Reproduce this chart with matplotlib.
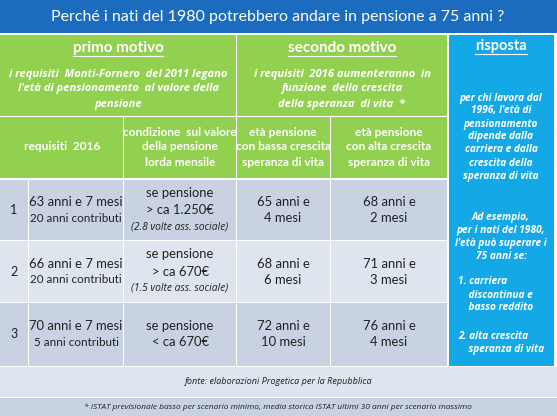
import matplotlib.pyplot as plt
from matplotlib.patches import Rectangle

plt.rcParams['font.family'] = ['Lato', 'DejaVu Sans']

title = "Perché i nati del 1980 potrebbero andare in pensione a 75 anni ?"
row_ids = ["1", "2", "3"]
requisiti = [("63 anni e 7 mesi", "20 anni contributi"),
             ("66 anni e 7 mesi", "20 anni contributi"),
             ("70 anni e 7 mesi", "5 anni contributi")]
condizione = [("se pensione", "> ca 1.250€", "(2.8 volte ass. sociale)"),
              ("se pensione", "> ca 670€", "(1.5 volte ass. sociale)"),
              ("se pensione", "< ca 670€", None)]
eta_bassa = ["65 anni e\n4 mesi", "68 anni e\n6 mesi", "72 anni e\n10 mesi"]
eta_alta = ["68 anni e\n2 mesi", "71 anni e\n3 mesi", "76 anni e\n4 mesi"]
fonte = "fonte: elaborazioni Progetica per la Repubblica"
nota = "* ISTAT previsionale basso per scenario minimo, media storica ISTAT ultimi 30 anni per scenario massimo"

BLUE_T = "#1b6cbf"
GREEN = "#92d050"
CYAN = "#14a8e6"
DARK_ROW = "#c8d2e2"
LIGHT_ROW = "#dfe5ee"
TXT = "#222222"
ITAL = ['Open Sans', 'DejaVu Sans']

fig = plt.figure(figsize=(5.57, 4.16), dpi=100)
ax = fig.add_axes([0, 0, 1, 1])
ax.set_xlim(0, 557)
ax.set_ylim(416, 0)
ax.axis('off')


def box(x0, y0, x1, y1, color):
    ax.add_patch(Rectangle((x0, y0), x1 - x0, y1 - y0, facecolor=color, edgecolor='none'))


underlines = []


def txt(x, y, s, size=8, color=TXT, under=False, step=None, **kw):
    # one text per line, so every line is centred on its own
    kw.setdefault('ha', 'center')
    kw.setdefault('va', 'center')
    if kw.get('style') == 'italic':
        kw.setdefault('family', ITAL)
    lines = s.split("\n")
    if step is None:
        step = size * 1.75
    y_first = y - step * (len(lines) - 1) / 2
    for k, line in enumerate(lines):
        t = ax.text(x, y_first + k * step, line, fontsize=size, color=color, **kw)
        if under:
            underlines.append(t)


fig.patch.set_facecolor('white')
# title
box(0, 0, 557, 33, BLUE_T)
txt(278, 17, title, 11.5, 'white')

# green header
box(0, 35, 447, 178, GREEN)
box(449, 35, 554, 366, CYAN)
ax.plot([236, 236], [35, 178], color='white', lw=0.8)
ax.plot([0, 447], [116, 116], color='white', lw=0.8)
for xv in [123, 330]:
    ax.plot([xv, xv], [116, 178], color='white', lw=0.8)

txt(118, 48, "primo motivo", 11, 'white', under=True, fontweight='bold')
txt(342, 48, "secondo motivo", 11, 'white', under=True, fontweight='bold')
txt(118, 89, "i requisiti  Monti-Fornero  del 2011 legano\nl'età di pensionamento  al valore della\npensione",
    8.0, 'white', step=15, style='italic', fontweight='bold')
txt(342, 89, "i requisiti  2016 aumenteranno  in\nfunzione  della crescita\ndella speranza  di vita  *",
    8.0, 'white', step=15, style='italic', fontweight='bold')
txt(62, 147, "requisiti  2016", 8.6, 'white', fontweight='bold')
txt(180, 147, "condizione  sul valore\ndella pensione\nlorda mensile", 8.6, 'white', step=15, fontweight='bold')
txt(283, 147, "età pensione\ncon bassa crescita\nsperanza di vita", 8.6, 'white', step=15, fontweight='bold')
txt(389, 147, "età pensione\ncon alta crescita\nsperanza di vita", 8.6, 'white', step=15, fontweight='bold')

# answer column
txt(501, 46, "risposta", 10.5, 'white', under=True, fontweight='bold')
txt(501, 137, "per chi lavora dal\n1996, l'età di\npensionamento\ndipende dalla\ncarriera e dalla\ncrescita della\nsperanza di vita",
    7.3, 'white', step=13, style='italic', fontweight='bold')
txt(501, 237, "Ad esempio,\nper i nati del 1980,\nl'età può superare i\n75 anni se:",
    7.3, 'white', step=13, style='italic', fontweight='bold')
txt(458, 295, "1. carriera\n    discontinua e\n    basso reddito", 7.3, 'white', ha='left', step=13,
    style='italic', fontweight='bold')
txt(458, 343, "2. alta crescita\n    speranza di vita", 7.3, 'white', ha='left', step=13,
    style='italic', fontweight='bold')

# data rows
row_top = [180, 241, 303]
row_bot = [240, 302, 366]
row_col = [DARK_ROW, LIGHT_ROW, DARK_ROW]
for i in range(3):
    y0, y1 = row_top[i], row_bot[i]
    box(0, y0, 447, y1, row_col[i])
    yc = (y0 + y1) / 2
    for xv in [28, 123, 236, 330]:
        ax.plot([xv, xv], [y0, y1], color='white', lw=0.8)
    txt(14, yc, row_ids[i], 9)
    txt(76, yc - 8, requisiti[i][0], 9.4)
    txt(76, yc + 8, requisiti[i][1], 8.4)
    c = condizione[i]
    if c[2]:
        txt(180, yc - 17, c[0], 9.4)
        txt(180, yc, c[1], 9.4)
        txt(180, yc + 17, c[2], 7.4, style='italic')
    else:
        txt(180, yc - 8, c[0], 9.4)
        txt(180, yc + 8, c[1], 9.4)
    txt(283, yc, eta_bassa[i], 9.4, step=16)
    txt(389, yc, eta_alta[i], 9.4, step=16)

box(0, 367, 557, 397, LIGHT_ROW)
box(0, 398, 557, 416, DARK_ROW)
txt(278, 382, fonte, 6.6, style='italic')
txt(278, 407, nota, 6.0, style='italic')

# underline headings
fig.canvas.draw()
r = fig.canvas.get_renderer()
inv = ax.transData.inverted()
for t in underlines:
    bb = t.get_window_extent(r)
    (xa, ya), (xb, yb) = inv.transform([[bb.x0, bb.y0], [bb.x1, bb.y1]])
    ax.plot([xa, xb], [ya + 1, ya + 1], color='white', lw=0.8)

fig.savefig("out.png", dpi=100)
